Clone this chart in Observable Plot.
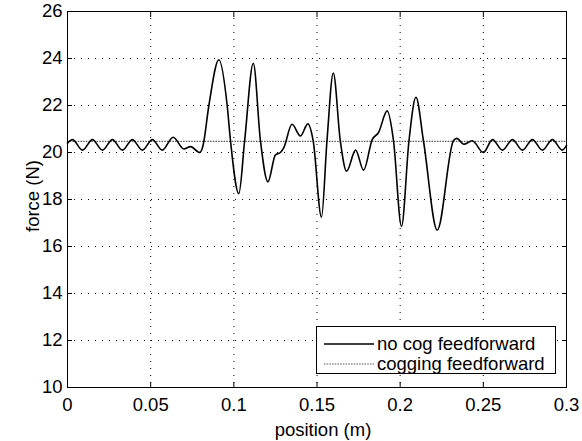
<!DOCTYPE html>
<html>
<head>
<meta charset="utf-8">
<script src="https://cdn.jsdelivr.net/npm/d3@7"></script>
<script src="https://cdn.jsdelivr.net/npm/@observablehq/plot@0.6"></script>
<style>
  body { margin: 0; background: #fff; }
  #wrap { position: relative; width: 582px; height: 441px; font-family: "Liberation Sans", Arial, sans-serif; }
  .title { position: absolute; font-size: 18.5px; color: #000; white-space: nowrap; line-height: 1; }
  #legend { position: absolute; left: 316px; top: 326px; width: 238px; height: 46px; border: 1px solid #000; background: #fff; }
  #legend .row { position: absolute; left: 0; height: 20px; display: flex; align-items: center; font-size: 18.5px; white-space: nowrap; }
</style>
</head>
<body>
<div id="wrap">
  <div id="chart"></div>
  <div class="title" style="left:323px; top:430px; transform:translate(-50%,-50%);">position (m)</div>
  <div class="title" style="left:33px; top:196px; transform:translate(-50%,-50%) rotate(-90deg);">force (N)</div>
  <div id="legend">
    <div class="row" style="top:7px;"><svg width="60" height="20"><line x1="7" x2="57" y1="10" y2="10" stroke="#000" stroke-width="1.4"/></svg><span>no cog feedforward</span></div>
    <div class="row" style="top:27px;"><svg width="60" height="20"><line x1="7" x2="57" y1="10" y2="10" stroke="#555" stroke-width="1.2" stroke-dasharray="1.5,1.2"/></svg><span>cogging feedforward</span></div>
  </div>
</div>
<script>
// Data
const xTicks = [0, 0.05, 0.1, 0.15, 0.2, 0.25, 0.3];
const yTicks = [10, 12, 14, 16, 18, 20, 22, 24, 26];
const seriesNames = ["no cog feedforward", "cogging feedforward"];
const positions = [0, 0.003, 0.009, 0.015, 0.021, 0.027, 0.033, 0.039, 0.045, 0.051, 0.057, 0.0635, 0.070, 0.074, 0.0795, 0.0815, 0.085, 0.091, 0.096, 0.098, 0.103, 0.1065, 0.1117, 0.116, 0.1205, 0.125, 0.128, 0.130, 0.135, 0.140, 0.1445, 0.1477, 0.1527, 0.156, 0.1598, 0.164, 0.1678, 0.1732, 0.178, 0.1832, 0.187, 0.1922, 0.196, 0.2008, 0.2053, 0.2095, 0.214, 0.2223, 0.232, 0.234, 0.2383, 0.2433, 0.250, 0.2555, 0.2615, 0.2675, 0.2735, 0.2795, 0.2855, 0.2915, 0.2975, 0.3];
const noCogForce = [20.4, 20.55, 20.1, 20.55, 20.1, 20.55, 20.1, 20.55, 20.1, 20.55, 20.1, 20.65, 20.15, 20.25, 20.0, 20.3, 22.0, 23.95, 22.0, 20.5, 18.25, 20.5, 23.8, 20.5, 18.75, 19.9, 20.0, 20.2, 21.2, 20.7, 21.22, 20.5, 17.25, 20.5, 23.38, 20.5, 19.2, 20.1, 19.25, 20.55, 20.85, 21.77, 20.5, 16.85, 20.5, 22.35, 20.5, 16.7, 20.5, 20.6, 20.35, 20.5, 20.0, 20.55, 20.1, 20.55, 20.1, 20.55, 20.1, 20.55, 20.1, 20.3];
const coggingForce = 20.47;

const noCog = positions.map((p, i) => ({position: p, force: noCogForce[i]}));
const fmt = d => String(+d.toFixed(2));

const chart = Plot.plot({
  width: 582,
  height: 441,
  marginLeft: 67,
  marginRight: 16,
  marginTop: 11,
  marginBottom: 54,
  style: {fontFamily: '"Liberation Sans", Arial, sans-serif', fontSize: "18.5px", color: "#000", background: "#fff"},
  x: {domain: [0, 0.3], label: null},
  y: {domain: [10, 26], label: null},
  marks: [
    Plot.gridX(xTicks, {stroke: "#000", strokeOpacity: 1, strokeDasharray: "1,6"}),
    Plot.gridY(yTicks, {stroke: "#000", strokeOpacity: 1, strokeDasharray: "1,6"}),
    Plot.ruleY([coggingForce], {stroke: "#555", strokeWidth: 1.2, strokeDasharray: "1.5,1.2"}),
    Plot.line(noCog, {x: "position", y: "force", stroke: "#000", strokeWidth: 1.6, curve: "monotone-x"}),
    Plot.frame({stroke: "#000", strokeWidth: 1}),
    Plot.axisX(xTicks, {anchor: "bottom", tickSize: 0, tickPadding: 10, tickFormat: fmt, label: null}),
    Plot.axisY(yTicks, {anchor: "left", tickSize: 0, tickPadding: 5, label: null}),
    Plot.axisX(xTicks, {anchor: "bottom", tickSize: -5, tickFormat: () => "", label: null}),
    Plot.axisX(xTicks, {anchor: "top", tickSize: -5, tickFormat: () => "", label: null}),
    Plot.axisY(yTicks, {anchor: "left", tickSize: -5, tickFormat: () => "", label: null}),
    Plot.axisY(yTicks, {anchor: "right", tickSize: -5, tickFormat: () => "", label: null})
  ]
});
document.getElementById("chart").appendChild(chart);
</script>
</body>
</html>
